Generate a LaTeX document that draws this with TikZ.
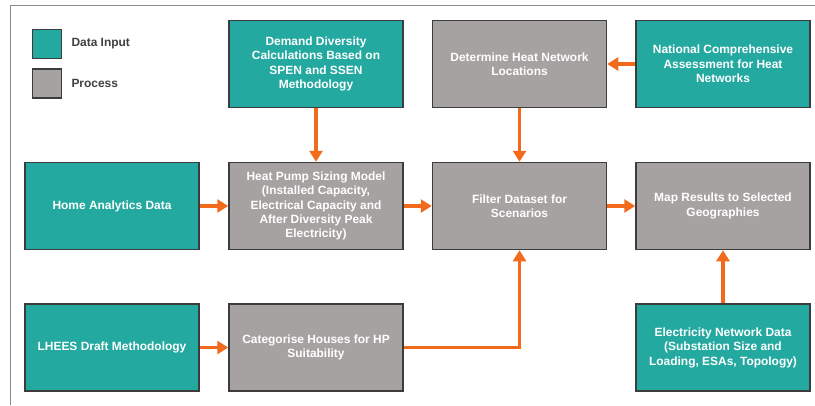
\documentclass[tikz,border=0pt]{standalone}
\usepackage{fontspec}
\setmainfont{Liberation Sans}
\usetikzlibrary{positioning, calc, arrows.meta}
\definecolor{Teal}{HTML}{24A9A1}
\definecolor{Stone}{HTML}{A6A2A1}
\definecolor{Orange}{HTML}{F26B1C}
\definecolor{Edge}{HTML}{3C3C3C}
\definecolor{Ink}{HTML}{404040}
\definecolor{Frame}{HTML}{8A8A8A}
\tikzset{
    inputnode/.style={rectangle, draw=Edge, line width=1.5bp, fill=Teal, text=white, align=center,
        minimum width=174bp, minimum height=87bp, inner sep=0pt, font=\bfseries\fontsize{12}{14.5}\selectfont},
    processnode/.style={inputnode, fill=Stone},
    keybox/.style={rectangle, draw=Edge, line width=1.5bp, minimum size=29bp, inner sep=0pt},
    keytext/.style={anchor=west, text=Ink, font=\bfseries\fontsize{12}{14.5}\selectfont},
    arrow/.style={-{Triangle[length=11bp, width=13bp]}, line width=3.5bp, color=Orange},
}

\begin{document}
\begin{tikzpicture}[x=1bp, y=-1bp]

            \useasboundingbox (0,0) rectangle (815,405);

            % Cornice
            \draw[Frame, line width=1bp] (10,405) |- (815,5);

            % Legenda
            \node[keybox, fill=Teal] (keyin) at (47,44) {};
            \node[keybox, fill=Stone] (keyproc) at (47,83.5) {};
            \node[keytext] (keyintext) at (68,44) {Data Input};
            \node[keytext] (keyproctext) at (68,83.5) {Process};

            % Riga 1
            \node[inputnode] (dds) at (316,64) {Demand Diversity\\Calculations Based on\\SPEN and SSEN\\Methodology};
            \node[processnode] (dhn) at (519.5,64) {Determine Heat Network\\Locations};
            \node[inputnode] (nca) at (723,64) {National Comprehensive\\Assessment for Heat\\Networks};

            % Riga 2
            \node[inputnode] (had) at (112,206) {Home Analytics Data};
            \node[processnode] (hps) at (316,206) {Heat Pump Sizing Model\\(Installed Capacity,\\Electrical Capacity and\\After Diversity Peak\\Electricity)};
            \node[processnode] (fds) at (519.5,206) {Filter Dataset for\\Scenarios};
            \node[processnode] (mrs) at (723,206) {Map Results to Selected\\Geographies};

            % Riga 3
            \node[inputnode] (lhees) at (112,347.5) {LHEES Draft Methodology};
            \node[processnode] (chs) at (316,347.5) {Categorise Houses for HP\\Suitability};
            \node[inputnode] (end) at (723,347.5) {Electricity Network Data\\(Substation Size and\\Loading, ESAs, Topology)};

            % Frecce
            \draw[arrow] (dds) -- (hps);
            \draw[arrow] (nca) -- (dhn);
            \draw[arrow] (dhn) -- (fds);
            \draw[arrow] (had) -- (hps);
            \draw[arrow] (hps) -- (fds);
            \draw[arrow] (fds) -- (mrs);
            \draw[arrow] (lhees) -- (chs);
            \draw[arrow] (chs.east) -| (fds.south);
            \draw[arrow] (end) -- (mrs);
        \end{tikzpicture}
\end{document}
